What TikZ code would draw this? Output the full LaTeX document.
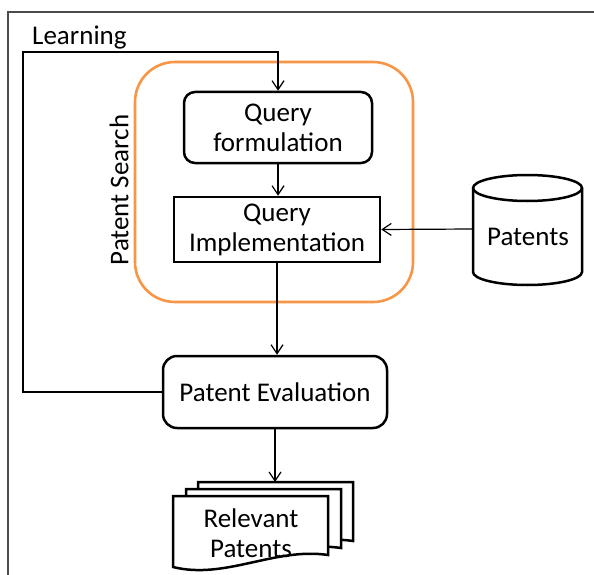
\documentclass[tikz,border=0pt]{standalone}
\usepackage{fontspec}
\setmainfont{Carlito}
\usetikzlibrary{arrows.meta}
\definecolor{searchorange}{HTML}{F79646}
\tikzset{
  txt/.style={font=\fontsize{27}{30}\selectfont, align=center, inner sep=0pt},
  box/.style={txt, draw=black, line width=2.5pt, fill=white},
  conn/.style={draw=black, line width=1.2pt},
  arr/.style={conn, -{Straight Barb[length=9pt,width=12pt]}},
  docshape/.style={draw=black, line width=2.5pt, fill=white, line join=miter},
}
\begin{document}
\begin{tikzpicture}[x=1pt, y=-1pt]
\useasboundingbox (0,0) rectangle (594,575);

% outer frame (top and left edges)
\draw[black!70, line width=1.3pt] (8,575) -- (8,12) -- (594,12);

% patent search group
\node[draw=searchorange, line width=2.6pt, rounded corners=40pt,
      minimum width=278pt, minimum height=240pt, inner sep=0pt] (search) at (274,182) {};
\node[txt, rotate=90] (searchlbl) at (119,190) {Patent Search};

% process boxes
\node[box, rounded corners=11pt, minimum width=188pt, minimum height=71pt] (qf) at (278,127.5) {Query\\formulation};
\node[box, minimum width=206pt, minimum height=65pt] (qi) at (277,229.5) {Query\\Implementation};
\node[box, rounded corners=14pt, minimum width=224pt, minimum height=72pt] (pe) at (275,392) {Patent Evaluation};

% patents database (cylinder)
\node[minimum width=109pt, minimum height=110pt, inner sep=0pt] (db) at (527.5,229) {};
\draw[line width=2.5pt, fill=white]
  (473,188) -- (473,272) arc[start angle=180, end angle=360, x radius=54.5pt, y radius=13pt]
  -- (582,188) arc[start angle=0, end angle=180, x radius=54.5pt, y radius=13pt] -- cycle;
\draw[line width=2.5pt] (473,188) arc[start angle=180, end angle=360, x radius=54.5pt, y radius=13pt];
\node[txt] (dbtext) at (528,237) {Patents};

% relevant patents (document stack)
\foreach \dx/\dy in {25/-14, 13/-7, 0/0} {
  \draw[docshape, shift={(\dx,\dy)}]
    (173,567) -- (173,496) -- (328,496) -- (328,555)
    .. controls (275,547) and (225,580) .. (173,567) -- cycle;
}
\node[txt] (docs) at (251,533) {Relevant\\Patents};
\coordinate (stacktop) at (275,482);

% learning loop
\node[txt, anchor=west] (learn) at (32,38) {Learning};
\draw[arr] (pe.west) -- (23,392) -- (23,52) -- (278,52) -- (qf.north);

% flow connectors
\draw[arr] (qf.south) -- (qi.north -| qf.south);
\draw[arr] (db.west) -- (qi.east);
\draw[arr] (qi.south) -- (qi.south |- pe.north);
\draw[arr] (pe.south) -- (stacktop);
\end{tikzpicture}
\end{document}
